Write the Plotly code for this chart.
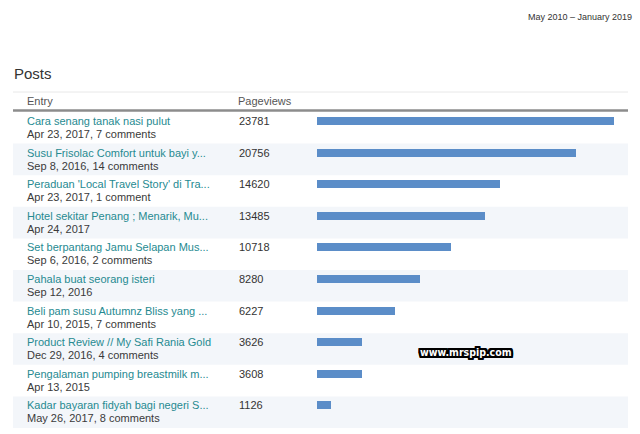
import plotly.graph_objects as go

# Posts table data
titles = [
    "Cara senang tanak nasi pulut",
    "Susu Frisolac Comfort untuk bayi y...",
    "Peraduan 'Local Travel Story' di Tra...",
    "Hotel sekitar Penang ; Menarik, Mu...",
    "Set berpantang Jamu Selapan Mus...",
    "Pahala buat seorang isteri",
    "Beli pam susu Autumnz Bliss yang ...",
    "Product Review // My Safi Rania Gold",
    "Pengalaman pumping breastmilk m...",
    "Kadar bayaran fidyah bagi negeri S...",
]
details = [
    "Apr 23, 2017, 7 comments",
    "Sep 8, 2016, 14 comments",
    "Apr 23, 2017, 1 comment",
    "Apr 24, 2017",
    "Sep 6, 2016, 2 comments",
    "Sep 12, 2016",
    "Apr 10, 2015, 7 comments",
    "Dec 29, 2016, 4 comments",
    "Apr 13, 2015",
    "May 26, 2017, 8 comments",
]
pageviews = [23781, 20756, 14620, 13485, 10718, 8280, 6227, 3626, 3608, 1126]
rows = list(range(len(titles)))

W, H = 640, 434
ROW_H = 31.6        # px per row
BAR_TOP = 121       # px centre of first bar
FONT = "Liberation Sans, Arial, sans-serif"

fig = go.Figure()

fig.add_trace(go.Bar(
    x=pageviews, y=rows, orientation="h", base=0,
    width=0.25, marker=dict(color="#5b8dc8", line=dict(width=0)),
    hoverinfo="skip",
))

# rows alternate white / pale blue
for i in rows:
    if i % 2 == 1:
        fig.add_shape(type="rect", xref="paper", yref="y",
                      x0=13 / W, x1=628 / W, y0=i - 0.285, y1=i + 0.715,
                      fillcolor="#f3f6fa", line_width=0, layer="below")

def px_y(p):
    return 1 - p / H

# annotations carry ~2px padding, so left-anchored text is nudged back
anns = []
for i in rows:
    anns.append(dict(x=25 / W, y=i, xref="paper", yref="y", text=titles[i],
                     xanchor="left", yanchor="middle", showarrow=False,
                     font=dict(family=FONT, size=11, color="#268a91")))
    anns.append(dict(x=25 / W, y=i + 0.41, xref="paper", yref="y", text=details[i],
                     xanchor="left", yanchor="middle", showarrow=False,
                     font=dict(family=FONT, size=11, color="#3a3a3a")))
    anns.append(dict(x=237 / W, y=i, xref="paper", yref="y", text=str(pageviews[i]),
                     xanchor="left", yanchor="middle", showarrow=False,
                     font=dict(family=FONT, size=11, color="#333333")))

outline = ", ".join(f"{dx}px {dy}px 0 #000" for dx in (-2, -1, 0, 1, 2)
                    for dy in (-2, -1, 0, 1, 2) if (dx, dy) != (0, 0))
anns += [
    dict(x=12 / W, y=px_y(73), xref="paper", yref="paper", text="Posts",
         xanchor="left", yanchor="middle", showarrow=False,
         font=dict(family=FONT, size=15, color="#333333")),
    dict(x=634 / W, y=px_y(17), xref="paper", yref="paper", text="May 2010 – January 2019",
         xanchor="right", yanchor="middle", showarrow=False,
         font=dict(family=FONT, size=9, color="#333333")),
    dict(x=25 / W, y=px_y(101), xref="paper", yref="paper", text="Entry",
         xanchor="left", yanchor="middle", showarrow=False,
         font=dict(family=FONT, size=11, color="#555555")),
    dict(x=236 / W, y=px_y(101), xref="paper", yref="paper", text="Pageviews",
         xanchor="left", yanchor="middle", showarrow=False,
         font=dict(family=FONT, size=11, color="#555555")),
    dict(x=466 / W, y=px_y(352), xref="paper", yref="paper", text="www.mrspip.com",
         xanchor="center", yanchor="middle", showarrow=False,
         font=dict(family="DejaVu Sans Condensed", size=10.5,
                   color="white", weight="bold", shadow=outline)),
]

# table borders
fig.add_shape(type="line", xref="paper", yref="paper", x0=13 / W, x1=628 / W,
              y0=px_y(92), y1=px_y(92), line=dict(color="#e8e8e8", width=1))
fig.add_shape(type="line", xref="paper", yref="paper", x0=13 / W, x1=628 / W,
              y0=px_y(110.5), y1=px_y(110.5), line=dict(color="#8c8c8c", width=2.5))

top_i = -BAR_TOP / ROW_H
bot_i = (H - BAR_TOP) / ROW_H
fig.update_layout(
    width=W, height=H, margin=dict(l=0, r=0, t=0, b=0),
    paper_bgcolor="white", plot_bgcolor="rgba(0,0,0,0)",
    showlegend=False, annotations=anns, bargap=0,
    xaxis=dict(domain=[317 / W, 1], range=[0, 23781 * (W - 317) / 297],
               visible=False, fixedrange=True),
    yaxis=dict(range=[bot_i, top_i], visible=False, fixedrange=True),
)

fig.write_html("out.html", config={"displayModeBar": False},
               post_script="document.body.style.margin='0';document.body.style.overflow='hidden';")
